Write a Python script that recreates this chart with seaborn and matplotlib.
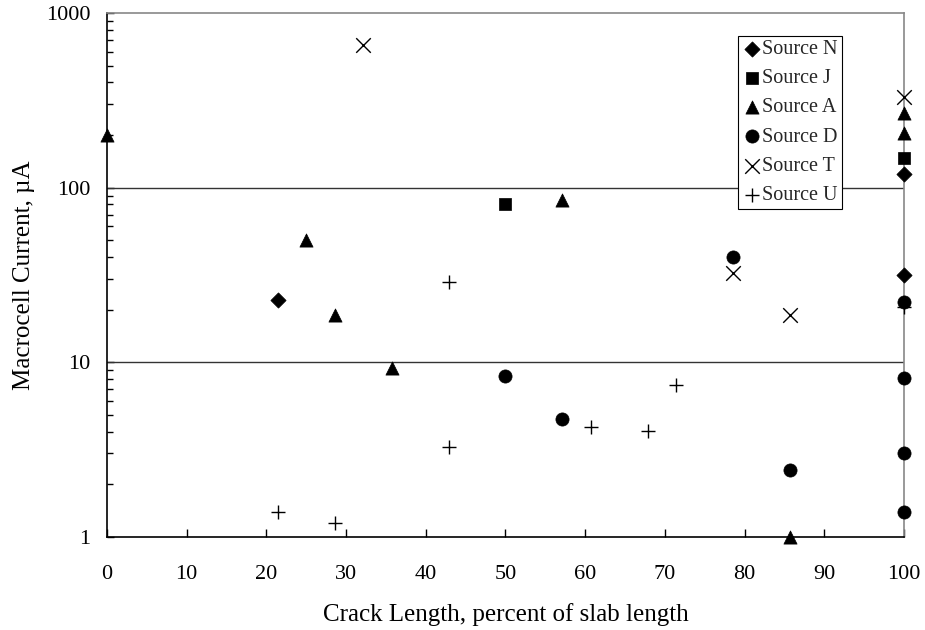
import matplotlib
matplotlib.use("Agg")
import matplotlib.pyplot as plt
import seaborn as sns
import pandas as pd
from matplotlib.ticker import FixedLocator, FixedFormatter, LogLocator, NullFormatter

# ---- data ----
n_x = [21.4, 100, 100]
n_y = [22.7, 120, 31.6]
j_x = [50, 100]
j_y = [81, 148]
a_x = [0, 25, 28.6, 35.7, 57.1, 85.7, 100, 100]
a_y = [200, 50, 18.7, 9.2, 85, 1.0, 267, 205]
d_x = [50, 57.1, 78.6, 85.7, 100, 100, 100, 100]
d_y = [8.35, 4.7, 40, 2.42, 22.1, 8.1, 3.0, 1.39]
t_x = [32.1, 78.6, 85.7, 100]
t_y = [655, 32.5, 18.7, 330]
u_x = [21.4, 28.6, 42.9, 42.9, 60.7, 67.9, 71.4, 100]
u_y = [1.39, 1.2, 3.27, 28.8, 4.26, 4.05, 7.4, 20.7]

series = [
    ("Source N", n_x, n_y, "D", 60),
    ("Source J", j_x, j_y, "s", 80),
    ("Source A", a_x, a_y, "^", 90),
    ("Source D", d_x, d_y, "o", 90),
    ("Source T", t_x, t_y, "x", 110),
    ("Source U", u_x, u_y, "+", 110),
]

x_ticks = [0, 10, 20, 30, 40, 50, 60, 70, 80, 90, 100]
y_ticks = [1, 10, 100, 1000]
y_tick_labels = ["1", "10", "100", "1000"]

sns.set_theme(style="white")
plt.rcParams["font.family"] = ["Liberation Serif", "DejaVu Serif"]

fig = plt.figure(figsize=(9.25, 6.3), dpi=100)
ax = fig.add_axes([0.1157, 0.148, 0.8615, 0.8314])

for name, xs, ys, mk, sz in series:
    df = pd.DataFrame({"x": xs, "y": ys})
    if mk in ("x", "+"):
        sns.scatterplot(data=df, x="x", y="y", marker=mk, s=sz, color="black",
                        linewidth=1.0, label=name, ax=ax, clip_on=False, zorder=5)
    else:
        sns.scatterplot(data=df, x="x", y="y", marker=mk, s=sz, color="black",
                        edgecolor="black", linewidth=0.5, label=name, ax=ax,
                        clip_on=False, zorder=5)

ax.set_yscale("log")
ax.set_xlim(0, 100)
ax.set_ylim(1, 1000)
ax.xaxis.set_major_locator(FixedLocator(x_ticks))
ax.yaxis.set_major_locator(FixedLocator(y_ticks))
ax.yaxis.set_major_formatter(FixedFormatter(y_tick_labels))
ax.yaxis.set_minor_locator(LogLocator(base=10, subs=range(2, 10)))
ax.yaxis.set_minor_formatter(NullFormatter())

ax.grid(False)
for yv in [10, 100]:
    ax.axhline(yv, color="#333333", linewidth=1.0, zorder=1)

for s in ["left", "bottom"]:
    ax.spines[s].set_color("black")
    ax.spines[s].set_linewidth(1.2)
for s in ["top", "right"]:
    ax.spines[s].set_color("#888888")
    ax.spines[s].set_linewidth(1.2)

ax.tick_params(axis="x", which="major", direction="in", length=6, width=1,
               color="black", bottom=True, labelsize=16, pad=20, labelcolor="black")
ax.tick_params(axis="y", which="major", direction="in", length=5, width=1,
               color="black", left=True, labelsize=16, pad=12, labelcolor="black")
ax.tick_params(axis="y", which="minor", direction="in", length=4, width=1,
               color="black", left=True)

ax.set_xlabel("Crack Length, percent of slab length", fontsize=18, labelpad=14, color="black")
ax.set_ylabel("Macrocell Current, µA", fontsize=18, labelpad=8, color="black")

leg = ax.legend(loc="upper left", bbox_to_anchor=(0.7917, 0.956), fontsize=14.5,
                frameon=True, fancybox=False, framealpha=1, edgecolor="black",
                handletextpad=0.0, borderpad=0.2, labelspacing=0.5,
                handlelength=1.0, borderaxespad=0)
leg.get_frame().set_linewidth(0.8)
leg.set_zorder(10)

fig.savefig("out.png", dpi=100)
